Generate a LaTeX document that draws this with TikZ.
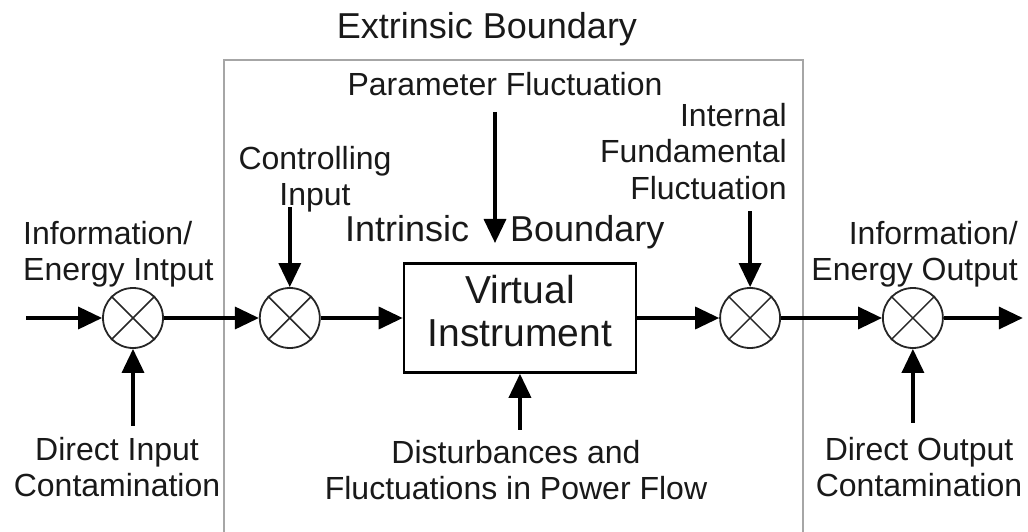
\documentclass[tikz,border=0pt]{standalone}
\usepackage{fontspec}
\setmainfont{Liberation Sans}
\usetikzlibrary{arrows.meta, positioning}

\begin{document}
\begin{tikzpicture}[
            x = 1pt, y = 1pt,
            > = {Triangle[length=24pt, width=22pt]}, % arrow head style
            node distance = 80pt, % distance between nodes
            text = black!90
        ]

        \tikzstyle{mixer}=[
            draw = black!85,
            line width = 1.8pt,
            circle,
            minimum size = 60pt,
            inner sep = 0pt
        ]
        \tikzstyle{lbl}=[
            inner sep = 0pt,
            font = \fontsize{32}{36.5}\selectfont
        ]
        \tikzstyle{flow}=[->, line width = 3.5pt]

        \useasboundingbox (0,0) rectangle (1028,531);

        % extrinsic boundary
        \draw[black!35, line width = 1.5pt] (224,-2) |- (803,471) -- (803,-2);

        \node[mixer] (m1) at (133,213) {};
        \node[mixer] (m2) [right=95pt of m1] {};
        \node[draw, line width = 2.5pt, minimum width = 232pt, minimum height = 109pt,
              align = center, font = \fontsize{39}{43}\selectfont]
              (vi) [right=82pt of m2] {Virtual\\Instrument\rule[-14pt]{0pt}{0pt}};
        \node[mixer] (m3) [right=82pt of vi] {};
        \node[mixer] (m4) [right=101pt of m3] {};

        \foreach \m in {m1,m2,m3,m4}
            \draw[line width = 1.5pt, black!85] (\m.north west) -- (\m.south east)
                                                 (\m.north east) -- (\m.south west);

        % free ends
        \coordinate[left=76pt of m1.west] (src);
        \coordinate[right=79pt of m4.east] (dst);
        \coordinate[below=77pt of m1.south] (dic);
        \coordinate[above=80pt of m2.north] (ci);
        \coordinate[below=56pt of vi.south] (dist);
        \coordinate[above=76pt of m3.north] (iff);
        \coordinate[below=74pt of m4.south] (doc);
        \coordinate (pf) at (495,419);
        \coordinate (pfend) at (495,288);

        \draw[flow] (src) -- (m1);
        \draw[flow] (m1) -- (m2);
        \draw[flow] (m2) -- (vi);
        \draw[flow] (vi) -- (m3);
        \draw[flow] (m3) -- (m4);
        \draw[flow] (m4) -- (dst);
        \draw[flow] (dic) -- (m1);
        \draw[flow] (ci) -- (m2);
        \draw[flow] (pf) -- (pfend);
        \draw[flow] (dist) -- (vi);
        \draw[flow] (iff) -- (m3);
        \draw[flow] (doc) -- (m4);

        % labels
        \node[lbl, font = \fontsize{36}{40}\selectfont, anchor = base] (extr) at (487,492) {Extrinsic Boundary};
        \node[lbl, anchor = base] (par) at (505,435) {Parameter Fluctuation};
        \node[lbl, font = \fontsize{36}{40}\selectfont, anchor = base west] (intr) at (345,289) {Intrinsic\hspace{41pt}Boundary};
        \node[lbl, align = center, anchor = north] (ctl) at (315,385) {Controlling\\Input};
        \node[lbl, align = right, anchor = north east] (ifl) at (787,428) {Internal\\Fundamental\\Fluctuation};
        \node[lbl, align = left, anchor = north west] (ein) at (23,310) {Information/\\Energy Intput};
        \node[lbl, align = right, anchor = north east] (eout) at (1018,310) {Information/\\Energy Output};
        \node[lbl, align = center, anchor = north] (dinc) at (117,94) {Direct Input\\Contamination};
        \node[lbl, align = center, anchor = north] (dpf) at (516,91) {Disturbances and\\Fluctuations in Power Flow};
        \node[lbl, align = center, anchor = north] (doutc) at (919,94) {Direct Output\\Contamination};

  \end{tikzpicture}
\end{document}
